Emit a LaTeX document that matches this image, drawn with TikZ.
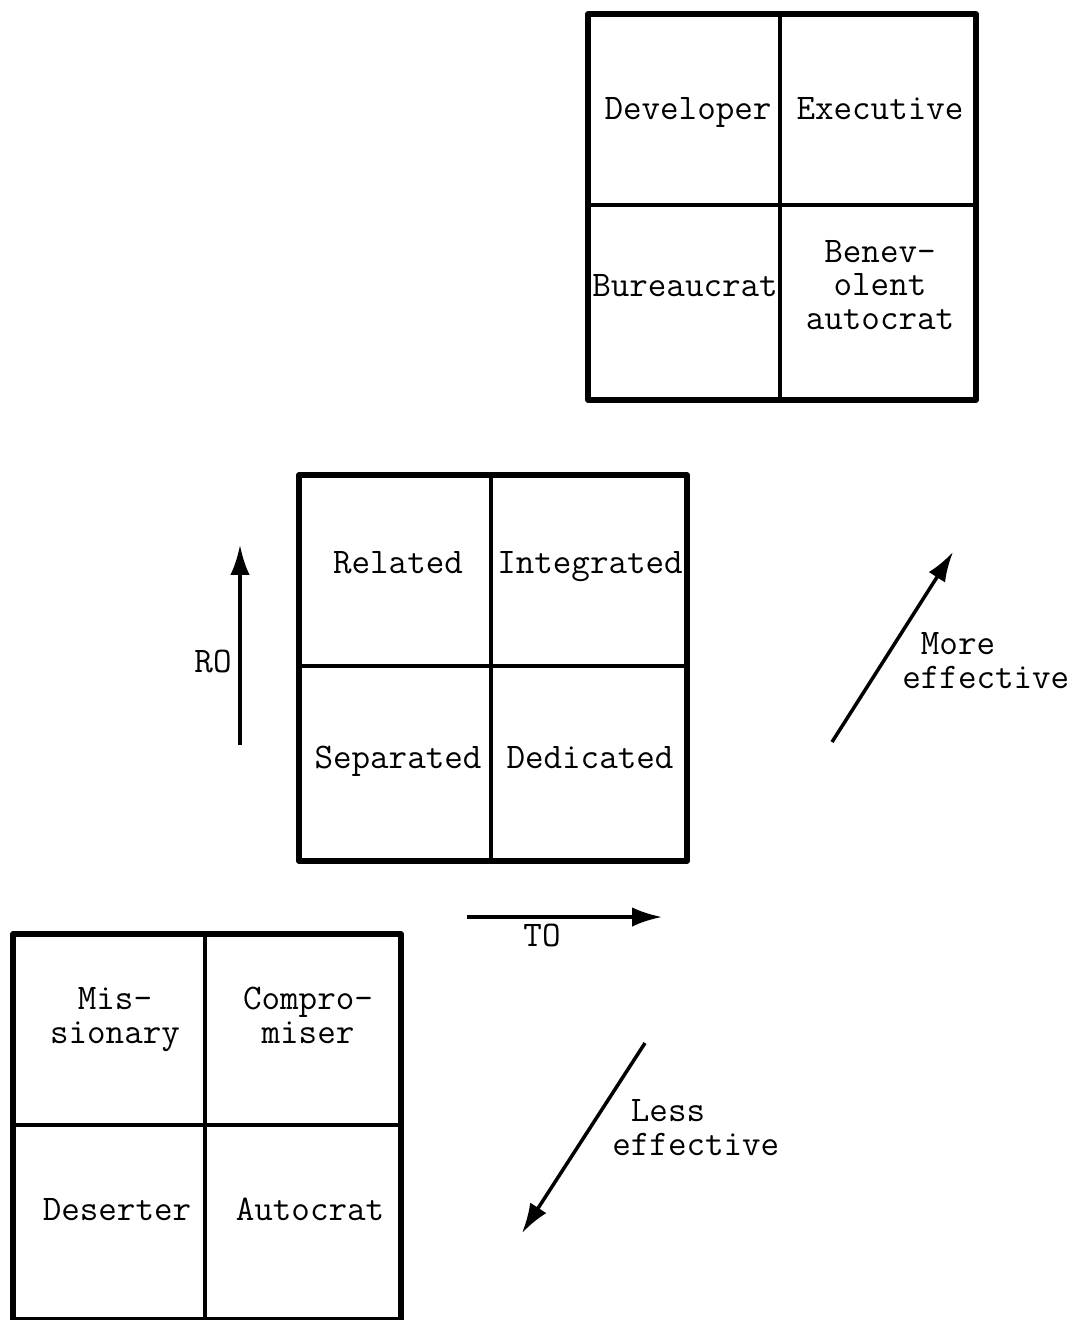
\documentclass[tikz,border=0pt]{standalone}
\usetikzlibrary{arrows.meta}

\begin{document}
\begin{tikzpicture}[x=0.02cm,y=-0.02cm,
	frame/.style={line width=3.3pt,line cap=round,line join=round},
	divider/.style={line width=1.9pt},
	label/.style={font=\fontsize{20.5}{18.8}\selectfont\ttfamily,inner sep=0pt,align=center,anchor=base},
	axis/.style={line width=2pt,-{Latex[length=17pt,width=11pt]}}]
	\useasboundingbox (0,0) rectangle (1078,1320);
	\clip (0,0) rectangle (1078,1320);
	% the three 2x2 grids
	\foreach \x/\y in {588/14, 299/475, 13/934}{
		\draw[frame] (\x,\y) rectangle ++(388,386);
		\draw[divider] (\x+192,\y) -- ++(0,386);
		\draw[divider] (\x,\y+191) -- ++(388,0);
	}
	% top grid
	\node[label] (dev) at (688,119) {Developer};
	\node[label] (exe) at (880,119) {Executive};
	\node[label] (bur) at (685,296) {Bureaucrat};
	\node[label] (ben) at (880,329) {Benev-\\olent\\autocrat};
	% middle grid
	\node[label] (rel) at (398,573) {Related};
	\node[label] (int) at (590,573) {Integrated};
	\node[label] (sep) at (398,768) {Separated};
	\node[label] (ded) at (590,768) {Dedicated};
	% bottom grid
	\node[label] (mis) at (115,1043) {Mis-\\sionary};
	\node[label] (com) at (308,1043) {Compro-\\miser};
	\node[label] (des) at (117,1220) {Deserter};
	\node[label] (aut) at (310,1220) {Autocrat};
	% axes
	\coordinate (roFoot) at (240,745);
	\coordinate (roTip) at (240,545);
	\coordinate (toFoot) at (467,917);
	\coordinate (toTip) at (662,917);
	\coordinate (moreFoot) at (832,742);
	\coordinate (moreTip) at (953,552);
	\coordinate (lessFoot) at (645,1043);
	\coordinate (lessTip) at (522,1233);
	\draw[axis] (roFoot) -- (roTip);
	\draw[axis] (toFoot) -- (toTip);
	\draw[axis] (moreFoot) -- (moreTip);
	\draw[axis] (lessFoot) -- (lessTip);
	\node[label] (ro) at (213,672) {RO};
	\node[label] (to) at (542,946) {TO};
	\node[label,anchor=base west,align=left] (more) at (902,688) {\ More\\effective};
	\node[label,anchor=base west,align=left] (less) at (612,1155) {\ Less\\effective};
\end{tikzpicture}
\end{document}
